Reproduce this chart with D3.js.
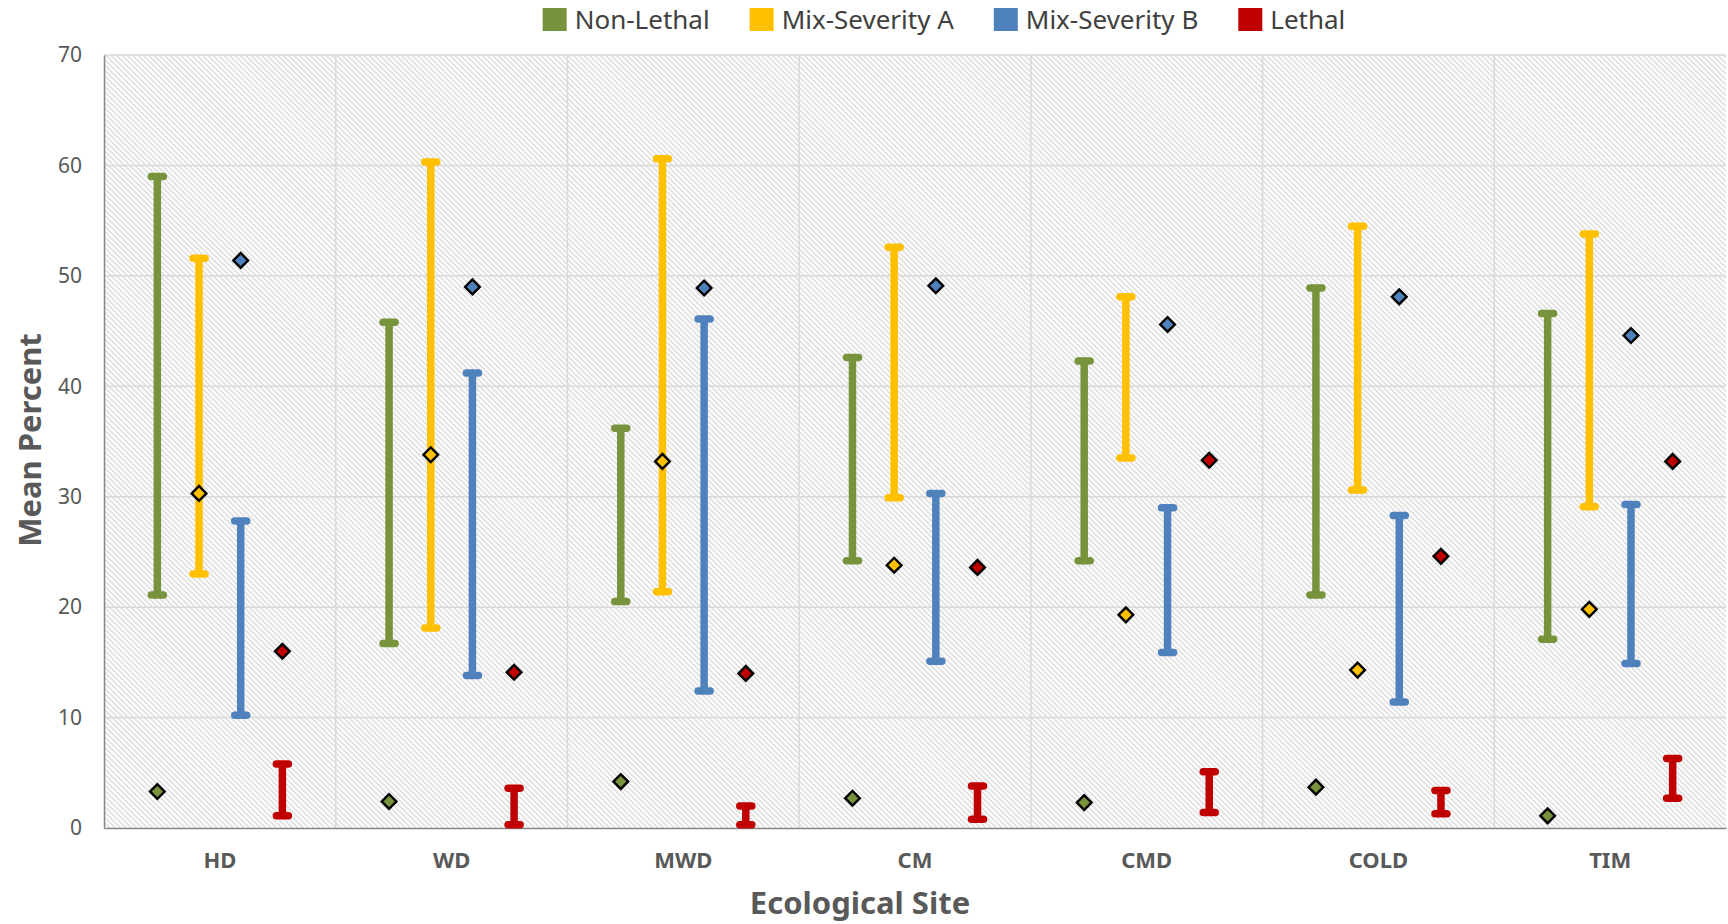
<!DOCTYPE html>
<html>
<head>
<meta charset="utf-8">
<script src="https://cdn.jsdelivr.net/npm/d3@7"></script>
<style>
    body { margin: 0; background: #fff; }
    #chart { width: 1728px; height: 924px; }
    text { font-family: 'Noto Sans', 'Open Sans', sans-serif; }
</style>
</head>
<body>
<div id="chart"></div>
<script>
// Categories and series
var sites = ['HD', 'WD', 'MWD', 'CM', 'CMD', 'COLD', 'TIM'];
var series = ['Non-Lethal', 'Mix-Severity A', 'Mix-Severity B', 'Lethal'];
var yTicks = [0, 10, 20, 30, 40, 50, 60, 70];

// Diamond values and range bars, one entry per site
var nonLethalPoint = [3.3, 2.4, 4.2, 2.7, 2.3, 3.7, 1.1];
var nonLethalLow = [21.1, 16.7, 20.5, 24.2, 24.2, 21.1, 17.1];
var nonLethalHigh = [59.0, 45.8, 36.2, 42.6, 42.3, 48.9, 46.6];

var mixAPoint = [30.3, 33.8, 33.2, 23.8, 19.3, 14.3, 19.8];
var mixALow = [23.0, 18.1, 21.4, 29.9, 33.5, 30.6, 29.1];
var mixAHigh = [51.6, 60.3, 60.6, 52.6, 48.1, 54.5, 53.8];

var mixBPoint = [51.4, 49.0, 48.9, 49.1, 45.6, 48.1, 44.6];
var mixBLow = [10.2, 13.8, 12.4, 15.1, 15.9, 11.4, 14.9];
var mixBHigh = [27.8, 41.2, 46.1, 30.3, 29.0, 28.3, 29.3];

var lethalPoint = [16.0, 14.1, 14.0, 23.6, 33.3, 24.6, 33.2];
var lethalLow = [1.1, 0.3, 0.3, 0.8, 1.4, 1.3, 2.7];
var lethalHigh = [5.8, 3.6, 2.0, 3.8, 5.1, 3.4, 6.3];

// Series colours
var colors = ['#77933c', '#ffc000', '#4f81bd', '#c00000'];

var margin = {top: 55, right: 2, bottom: 96, left: 104};

var chart_width = 1728;
var chart_height = 924;
var width = chart_width - margin.left - margin.right;
var height = chart_height - margin.top - margin.bottom;

var points = [nonLethalPoint, mixAPoint, mixBPoint, lethalPoint];
var lows = [nonLethalLow, mixALow, mixBLow, lethalLow];
var highs = [nonLethalHigh, mixAHigh, mixBHigh, lethalHigh];

var svg = d3.select('#chart').append('svg')
    .attr('width', chart_width)
    .attr('height', chart_height);

// hatched plot background (light downward diagonal)
var defs = svg.append('defs');
var pattern = defs.append('pattern')
    .attr('id', 'hatch')
    .attr('patternUnits', 'userSpaceOnUse')
    .attr('width', 3.8)
    .attr('height', 3.8)
    .attr('patternTransform', 'rotate(-45)');
pattern.append('rect')
    .attr('width', 3.8)
    .attr('height', 3.8)
    .attr('fill', '#ffffff');
pattern.append('line')
    .attr('x1', 1).attr('y1', 0)
    .attr('x2', 1).attr('y2', 3.8)
    .attr('stroke', '#e0e0e0')
    .attr('stroke-width', 1.7);

var g = svg.append('g')
    .attr('transform', 'translate(' + margin.left + ',' + margin.top + ')');

// Scales
var x = d3.scaleBand().domain(sites).range([0, width]).padding(0);
var xs = d3.scalePoint().domain(series).range([0, x.bandwidth()]).padding(1.28);
var y = d3.scaleLinear().domain([0, 70]).range([height, 0]);

g.append('rect')
    .attr('width', width)
    .attr('height', height)
    .attr('fill', 'url(#hatch)');

// Gridlines
g.selectAll('.hgrid')
    .data(yTicks.slice(1))
    .enter().append('line')
    .attr('class', 'hgrid')
    .attr('x1', 0).attr('x2', width)
    .attr('y1', function(d) { return y(d); })
    .attr('y2', function(d) { return y(d); })
    .attr('stroke', '#d9d9d9')
    .attr('stroke-width', 1.5);

g.selectAll('.vgrid')
    .data(sites.slice(1))
    .enter().append('line')
    .attr('class', 'vgrid')
    .attr('x1', function(d) { return x(d); })
    .attr('x2', function(d) { return x(d); })
    .attr('y1', 0).attr('y2', height)
    .attr('stroke', '#d9d9d9')
    .attr('stroke-width', 1.5);

// Axes
var yAxis = d3.axisLeft(y).tickValues(yTicks).tickSize(0).tickPadding(22);
var xAxis = d3.axisBottom(x).tickSize(0).tickPadding(24);

var yg = g.append('g').attr('class', 'y axis').call(yAxis);
yg.select('.domain').attr('stroke', '#868686').attr('stroke-width', 1.5);
yg.selectAll('text')
    .attr('font-size', '21px')
    .attr('fill', '#595959')
    .style('font-family', "'Noto Sans', sans-serif");

var xg = g.append('g').attr('class', 'x axis')
    .attr('transform', 'translate(0,' + height + ')')
    .call(xAxis);
xg.select('.domain').attr('stroke', '#868686').attr('stroke-width', 1.5);
xg.selectAll('text')
    .attr('font-size', '22px')
    .attr('font-weight', 'bold')
    .attr('fill', '#595959')
    .style('font-family', "'Noto Sans', sans-serif");

// Range bars and diamonds for each series
series.forEach(function(s, si) {
    var rows = sites.map(function(site, i) {
        return {site: site, point: points[si][i], low: lows[si][i], high: highs[si][i]};
    });
    var grp = g.append('g')
        .attr('class', 'series')
        .attr('stroke', colors[si])
        .attr('fill', colors[si]);

    var cx = function(d) { return x(d.site) + xs(s); };

    grp.selectAll('.bar')
        .data(rows)
        .enter().append('line')
        .attr('class', 'bar')
        .attr('x1', cx).attr('x2', cx)
        .attr('y1', function(d) { return y(d.low); })
        .attr('y2', function(d) { return y(d.high); })
        .attr('stroke-width', 7.5);

    ['low', 'high'].forEach(function(k) {
        grp.selectAll('.cap-' + k)
            .data(rows)
            .enter().append('line')
            .attr('class', 'cap-' + k)
            .attr('x1', function(d) { return cx(d) - 6; })
            .attr('x2', function(d) { return cx(d) + 6; })
            .attr('y1', function(d) { return y(d[k]); })
            .attr('y2', function(d) { return y(d[k]); })
            .attr('stroke-width', 7.5)
            .attr('stroke-linecap', 'round');
    });

    grp.selectAll('.dot')
        .data(rows)
        .enter().append('path')
        .attr('class', 'dot')
        .attr('d', d3.symbol().type(d3.symbolSquare).size(108))
        .attr('transform', function(d) {
            return 'translate(' + cx(d) + ',' + y(d.point) + ') rotate(45)';
        })
        .attr('stroke', '#000')
        .attr('stroke-width', 2.4);
});

// Axis titles
svg.append('text')
    .attr('class', 'ylabel')
    .attr('transform', 'translate(41,440) rotate(-90)')
    .style('text-anchor', 'middle')
    .attr('font-size', '31px')
    .attr('font-weight', 'bold')
    .attr('fill', '#595959')
    .text('Mean Percent');

svg.append('text')
    .attr('class', 'xlabel')
    .attr('x', 860)
    .attr('y', 914)
    .style('text-anchor', 'middle')
    .attr('font-size', '31px')
    .attr('font-weight', 'bold')
    .attr('fill', '#595959')
    .text('Ecological Site');

// Legend
var legend = svg.append('g').attr('class', 'legend');
var items = legend.selectAll('g')
    .data(series)
    .enter().append('g');

items.append('rect')
    .attr('y', 8)
    .attr('width', 24)
    .attr('height', 23)
    .attr('fill', function(d, i) { return colors[i]; });

items.append('text')
    .attr('x', 32)
    .attr('y', 20)
    .attr('dy', '.35em')
    .attr('font-size', '26px')
    .attr('fill', '#404040')
    .text(function(d) { return d; });

var offset = 0;
var positions = [];
items.each(function() {
    var w = 32 + d3.select(this).select('text').node().getComputedTextLength();
    positions.push(offset);
    offset += w + 40;
});
var legendWidth = offset - 40;
var legendStart = 944 - legendWidth / 2;
items.attr('transform', function(d, i) { return 'translate(' + (legendStart + positions[i]) + ',0)'; });
</script>
</body>
</html>
